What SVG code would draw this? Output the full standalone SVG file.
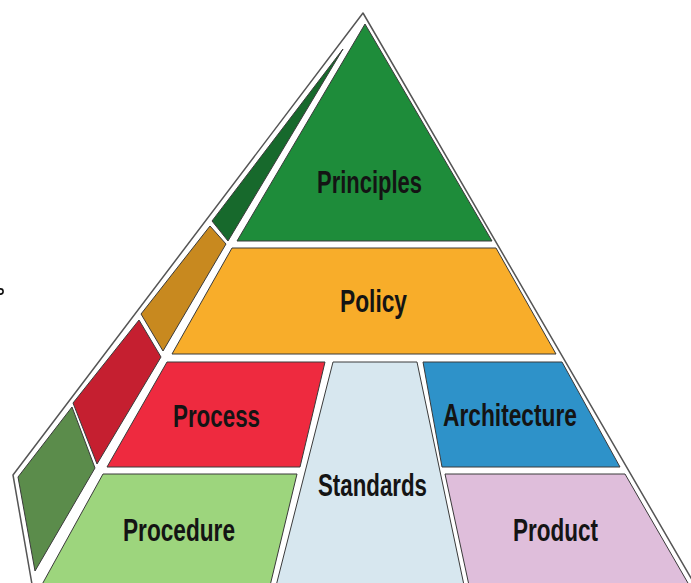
<svg xmlns="http://www.w3.org/2000/svg" width="691" height="583" viewBox="0 0 691 583">
<style>
.s{stroke:#3a3a3a;stroke-width:1;stroke-linejoin:round}
.t{font-family:"Liberation Sans",Arial,sans-serif;font-weight:bold;font-size:32px;fill:#141414}
</style>
<rect width="691" height="583" fill="#ffffff"/>
<circle cx="0.5" cy="291.5" r="2.6" fill="none" stroke="#111" stroke-width="1.6"/>
<g id="outline">
<path d="M33 590 L13 475 L363 13 L698 590" fill="none" stroke="#555" stroke-width="1.5" stroke-linejoin="round"/>
</g>
<g id="side">
<polygon class="s" points="343,49 212,221 228,241" fill="#17692c"/>
<polygon class="s" points="210,226 226,244 163,351 141,314" fill="#c8891f"/>
<polygon class="s" points="139,320 161,357 97,464 73,403" fill="#c51f30"/>
<polygon class="s" points="72,407 95,468 35,571 18,477" fill="#5b8c4b"/>
</g>
<g id="principles">
<polygon class="s" points="365,24 492,241 237,241" fill="#1e8c3a"/>
<text class="t" x="317" y="193" textLength="105" lengthAdjust="spacingAndGlyphs">Principles</text>
</g>
<g id="policy">
<polygon class="s" points="232,248 496,248 556,354 172,354" fill="#f8ad2a"/>
<text class="t" x="340" y="312" textLength="67" lengthAdjust="spacingAndGlyphs">Policy</text>
</g>
<g id="process">
<polygon class="s" points="167,362 325,362 300,467 107,467" fill="#ee2a3f"/>
<text class="t" x="173" y="427" textLength="87" lengthAdjust="spacingAndGlyphs">Process</text>
</g>
<g id="procedure">
<polygon class="s" points="103,474 297,474 269,590 39,590" fill="#9dd57d"/>
<text class="t" x="123" y="541" textLength="112" lengthAdjust="spacingAndGlyphs">Procedure</text>
</g>
<g id="standards">
<polygon class="s" points="333,362 417,362 465,590 275,590" fill="#d7e7ef"/>
<text class="t" x="318" y="496" textLength="109" lengthAdjust="spacingAndGlyphs">Standards</text>
</g>
<g id="architecture">
<polygon class="s" points="423,362 562,362 620,467 442,467" fill="#2e92c9"/>
<text class="t" x="443" y="426" textLength="134" lengthAdjust="spacingAndGlyphs">Architecture</text>
</g>
<g id="product">
<polygon class="s" points="445,474 625,474 692,590 470,590" fill="#dfbedb"/>
<text class="t" x="513" y="541" textLength="85" lengthAdjust="spacingAndGlyphs">Product</text>
</g>
<g id="connectors"></g>
</svg>
